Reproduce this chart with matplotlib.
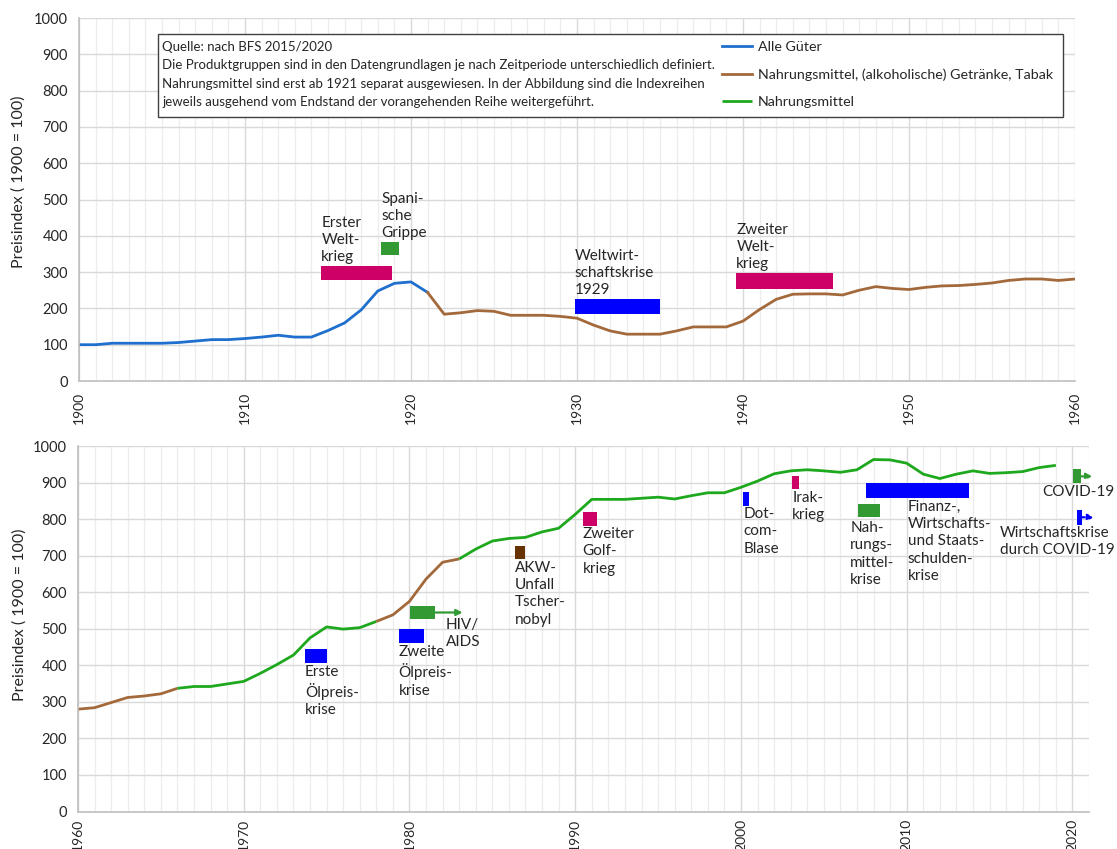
import matplotlib
matplotlib.use("Agg")
import matplotlib.pyplot as plt
from matplotlib.ticker import MultipleLocator
from matplotlib.patches import Rectangle
import numpy as np

plt.rcParams['font.family'] = ['Lato', 'DejaVu Sans']

# ---------------- data ----------------
years_alle = list(range(1900, 1922))
alle_gueter = [100, 100, 104, 104, 104, 104, 106, 110, 114, 114, 117, 121, 126, 121, 121,
               139, 160, 196, 248, 269, 273, 244]

years_ngt = list(range(1921, 1961))
ngt_top = [244, 184, 188, 194, 192, 181, 181, 181, 178, 173, 154, 138, 129, 129, 129,
           138, 149, 149, 149, 165, 197, 225, 239, 240, 240, 237, 250, 260, 255, 252,
           258, 262, 263, 266, 270, 277, 281, 281, 277, 281]

years_bottom = list(range(1960, 2020))
index_bottom = [280, 284, 298, 312, 316, 322, 337, 342, 342, 349, 356, 378, 402, 428, 475,
                505, 499, 503, 520, 538, 575, 636, 682, 691, 718, 740, 747, 750, 765, 775,
                813, 854, 854, 854, 857, 860, 855, 864, 872, 872, 887, 904, 924, 932, 935,
                932, 928, 935, 963, 962, 953, 923, 911, 923, 932, 925, 927, 930, 941, 947]
# which product group the bottom series belongs to, per stretch of years
seg_start = [1960, 1966, 1978, 1983]
seg_end = [1966, 1978, 1983, 2019]
seg_group = ["ngt", "n", "ngt", "n"]

legend_labels = ["Alle Güter", "Nahrungsmittel, (alkoholische) Getränke, Tabak", "Nahrungsmittel"]
note_text = ("Quelle: nach BFS 2015/2020\n"
             "Die Produktgruppen sind in den Datengrundlagen je nach Zeitperiode unterschiedlich definiert.\n"
             "Nahrungsmittel sind erst ab 1921 separat ausgewiesen. In der Abbildung sind die Indexreihen\n"
             "jeweils ausgehend vom Endstand der vorangehenden Reihe weitergeführt.")

# events, upper panel
ev1_labels = ["Erster\nWelt-\nkrieg", "Spani-\nsche\nGrippe", "Weltwirt-\nschaftskrise\n1929",
              "Zweiter\nWelt-\nkrieg"]
ev1_start = [1914.6, 1918.2, 1929.85, 1939.6]
ev1_end = [1918.85, 1919.3, 1935.0, 1945.45]
ev1_low = [278, 346, 185, 254]
ev1_high = [317, 383, 226, 297]
ev1_kind = ["war", "health", "economy", "war"]

# events, lower panel
ev2_labels = ["Erste\nÖlpreis-\nkrise", "Zweite\nÖlpreis-\nkrise", "HIV/\nAIDS",
              "AKW-\nUnfall\nTscher-\nnobyl", "Zweiter\nGolf-\nkrieg", "Dot-\ncom-\nBlase",
              "Irak-\nkrieg", "Nah-\nrungs-\nmittel-\nkrise",
              "Finanz-,\nWirtschafts-\nund Staats-\nschulden-\nkrise",
              "COVID-19", "Wirtschaftskrise\ndurch COVID-19"]
ev2_start = [1973.7, 1979.35, 1980.05, 1986.35, 1990.45, 2000.15, 2003.1, 2007.05, 2007.55,
             2020.05, 2020.25]
ev2_end = [1975.0, 1980.85, 1981.55, 1987.0, 1991.3, 2000.5, 2003.5, 2008.4, 2013.75,
           2020.5, 2020.6]
ev2_low = [407, 462, 526, 690, 781, 836, 881, 805, 857, 898, 785]
ev2_high = [445, 500, 563, 726, 820, 873, 919, 841, 898, 936, 825]
ev2_kind = ["economy", "economy", "health", "accident", "war", "economy", "war", "health",
            "economy", "health", "economy"]
ev2_ongoing_until = [None, None, 1983.2, None, None, None, None, None, None, 2021.2, 2021.3]
ev2_arrow_style = [None, None, "solid", None, None, None, None, None, None, "dashed", "dotted"]
ev2_label_x = [1973.7, 1979.35, 1982.2, 1986.35, 1990.45, 2000.15, 2003.1, 2006.6, 2010.05,
               2022.55, 2022.55]
ev2_label_ha = ["left"] * 9 + ["right", "right"]
ev2_label_top = [402, 455, 530, 686, 778, 833, 878, 795, 853, 893, 782]

# ---------------- style ----------------
C_BLUE = "#1f6fce"
C_BROWN = "#a3693b"
C_GREEN = "#1ea81e"
kind_color = {"war": "#cc0066", "health": "#339933", "economy": "#0000ff", "accident": "#663300"}
group_color = {"ngt": C_BROWN, "n": C_GREEN}
TXT = "#262626"
LINE_W = 2.0

fig = plt.figure(figsize=(11.17, 8.49), dpi=100)
ax1 = fig.add_axes([79 / 1117, 1 - 381 / 849, 996 / 1117, 363 / 849])
ax2 = fig.add_axes([78 / 1117, 1 - 811.5 / 849, 1011 / 1117, 365.5 / 849])


def style_axes(ax, x0, x1, lab_y, xpad):
    ax.set_xlim(x0, x1)
    ax.set_ylim(0, 1000)
    ax.xaxis.set_major_locator(MultipleLocator(10))
    ax.xaxis.set_minor_locator(MultipleLocator(1))
    ax.yaxis.set_major_locator(MultipleLocator(100))
    ax.grid(which="major", color="#d9d9d9", lw=1.0, zorder=0)
    ax.grid(which="minor", axis="x", color="#ededed", lw=0.9, zorder=0)
    ax.set_axisbelow(True)
    for s in ["top", "right"]:
        ax.spines[s].set_visible(False)
    for s in ["left", "bottom"]:
        ax.spines[s].set_color("#bfbfbf")
        ax.spines[s].set_linewidth(1.2)
    ax.tick_params(which="both", length=0)
    ax.tick_params(axis="y", labelsize=10.5, labelcolor=TXT, pad=8)
    ax.tick_params(axis="x", labelsize=10, labelcolor=TXT, pad=xpad, labelrotation=90)
    ax.set_ylabel("Preisindex ( 1900 = 100)", fontsize=11.5, color=TXT)
    ax.yaxis.set_label_coords(lab_y[0], lab_y[1])


style_axes(ax1, 1900, 1960, (-0.053, 0.548), 8)
style_axes(ax2, 1960, 2021, (-0.051, 0.538), 5)

# ---------------- upper panel ----------------
h_blue, = ax1.plot(years_alle, alle_gueter, color=C_BLUE, lw=LINE_W, zorder=2,
                   solid_joinstyle="round", label=legend_labels[0])
h_brown, = ax1.plot(years_ngt, ngt_top, color=C_BROWN, lw=LINE_W, zorder=2,
                    solid_joinstyle="round", label=legend_labels[1])

EV_FS = 11
for lab, s, e, lo, hi, k in zip(ev1_labels, ev1_start, ev1_end, ev1_low, ev1_high, ev1_kind):
    ax1.bar(s, hi - lo, width=e - s, bottom=lo, align="edge", color=kind_color[k],
            edgecolor="none", zorder=3)
    ax1.text(s, hi + 5, lab, ha="left", va="bottom", fontsize=EV_FS, color=TXT,
             linespacing=1.3, zorder=4)

# note box and legend
ax1.add_patch(Rectangle((0.0793, 0.727), 0.9087, 0.229, transform=ax1.transAxes,
                        facecolor="white", edgecolor="#404040", lw=1.0, zorder=5))
ax1.text(0.0838, 0.936, note_text, transform=ax1.transAxes, ha="left", va="top",
         fontsize=9.5, color=TXT, linespacing=1.62, zorder=6)

# ---------------- lower panel ----------------
yrs = np.array(years_bottom)
vals = np.array(index_bottom)
h_green = None
for s, e, g in zip(seg_start, seg_end, seg_group):
    m = (yrs >= s) & (yrs <= e)
    ln, = ax2.plot(yrs[m], vals[m], color=group_color[g], lw=LINE_W, zorder=2,
                   solid_joinstyle="round", solid_capstyle="butt")
    if g == "n" and h_green is None:
        h_green = ln
h_green.set_label(legend_labels[2])

for i, lab in enumerate(ev2_labels):
    s, e, lo, hi, k = ev2_start[i], ev2_end[i], ev2_low[i], ev2_high[i], ev2_kind[i]
    col = kind_color[k]
    ax2.bar(s, hi - lo, width=e - s, bottom=lo, align="edge", color=col,
            edgecolor="none", zorder=3, clip_on=False)
    if ev2_ongoing_until[i] is not None:
        ym = (lo + hi) / 2
        ax2.annotate("", xy=(ev2_ongoing_until[i], ym), xytext=(e, ym),
                     arrowprops=dict(arrowstyle="-|>,head_length=0.35,head_width=0.18",
                                     color=col, lw=1.6, linestyle=ev2_arrow_style[i],
                                     shrinkA=0, shrinkB=0),
                     annotation_clip=False, zorder=3)
    ax2.text(ev2_label_x[i], ev2_label_top[i], lab, ha=ev2_label_ha[i], va="top",
             multialignment="left", fontsize=EV_FS, color=TXT, linespacing=1.3,
             zorder=4, clip_on=False)

leg = ax1.legend(handles=[h_blue, h_brown, h_green], loc="upper left",
                 bbox_to_anchor=(0.6456, 0.937), frameon=False, fontsize=10.3,
                 handlelength=2.1, handletextpad=0.4, labelspacing=1.07,
                 borderaxespad=0, borderpad=0)
leg.set_zorder(7)
for t in leg.get_texts():
    t.set_color(TXT)

fig.savefig("out.png", dpi=100, facecolor="white")
